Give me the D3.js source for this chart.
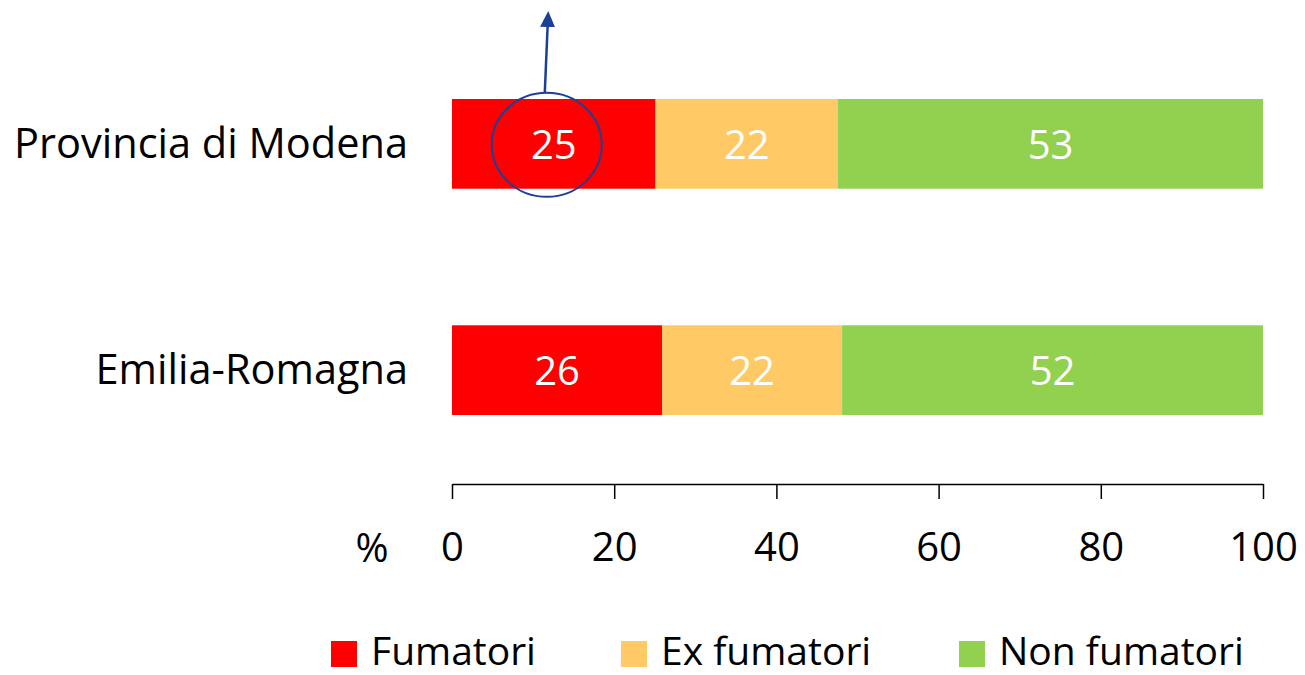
<!DOCTYPE html>
<html lang="it">
<head>
    <meta charset="UTF-8">
    <title>Fumatori</title>
    <script src="https://d3js.org/d3.v7.min.js"></script>
    <style>
        * { margin: 0; padding: 0; box-sizing: border-box; }
        body { background: #fff; font-family: "Open Sans", Lato, sans-serif; }
    </style>
</head>
<body>
    <div id="chart"></div>
    <script>
        const regions = ["Provincia di Modena", "Emilia-Romagna"];
        const series = ["Fumatori", "Ex fumatori", "Non fumatori"];
        const fumatori = [25.1, 25.9];
        const exFumatori = [22.5, 22.2];
        const nonFumatori = [52.4, 51.9];
        const labels = [[25, 22, 53], [26, 22, 52]];
        const ticks = [0, 20, 40, 60, 80, 100];
        const colors = ["#ff0000", "#ffc966", "#92d050"];

        const W = 1305, H = 675;
        const fs = 40;

        const svg = d3.select("#chart").append("svg")
            .attr("width", W).attr("height", H)
            .style("font-family", "'Open Sans', sans-serif");

        const x = d3.scaleLinear().domain([0, 100]).range([452, 1263]);
        const y = d3.scaleBand().domain(regions).range([99, 415]).paddingInner(0.6035).paddingOuter(0);

        const rows = regions.map((r, i) => ({ region: r, Fumatori: fumatori[i], "Ex fumatori": exFumatori[i], "Non fumatori": nonFumatori[i] }));
        const stacked = d3.stack().keys(series)(rows);

        const layer = svg.selectAll(".layer").data(stacked).join("g")
            .attr("fill", (d, i) => colors[i]);

        layer.selectAll("rect").data(d => d).join("rect")
            .attr("x", d => x(d[0]))
            .attr("y", d => y(d.data.region))
            .attr("width", d => x(d[1]) - x(d[0]))
            .attr("height", y.bandwidth());

        stacked.forEach((s, si) => {
            svg.selectAll(".lab" + si).data(s).join("text")
                .attr("x", d => (x(d[0]) + x(d[1])) / 2)
                .attr("y", d => y(d.data.region) + y.bandwidth() / 2 + 15)
                .attr("text-anchor", "middle")
                .attr("fill", "#fff")
                .style("font-size", fs + "px")
                .text((d, i) => labels[i][si]);
        });

        // etichette categorie
        svg.selectAll(".cat").data(regions).join("text")
            .attr("x", 408)
            .attr("y", d => y(d) + y.bandwidth() / 2 + 14)
            .attr("text-anchor", "end")
            .attr("fill", "#000")
            .style("font-size", "41.5px")
            .text(d => d);

        // asse
        const axisG = svg.append("g").attr("transform", "translate(0,484)")
            .call(d3.axisBottom(x).tickValues(ticks).tickSize(15).tickSizeOuter(0).tickPadding(34));
        axisG.select(".domain").attr("stroke", "#000").attr("stroke-width", 1.5);
        axisG.selectAll(".tick line").attr("stroke", "#000").attr("stroke-width", 1.5);
        axisG.selectAll(".tick text").attr("fill", "#000")
            .style("font-size", fs + "px").style("font-family", "'Open Sans', sans-serif");

        svg.append("text").attr("x", 372).attr("y", 562)
            .attr("text-anchor", "middle").style("font-size", fs + "px").text("%");

        // cerchio + freccia
        const blue = "#1c3f98";
        svg.append("defs").append("marker")
            .attr("id", "arr").attr("markerUnits", "userSpaceOnUse")
            .attr("viewBox", "0 0 16 15")
            .attr("refX", 0).attr("refY", 7.5)
            .attr("markerWidth", 16).attr("markerHeight", 15)
            .attr("orient", "auto")
            .append("path").attr("d", "M0,0 L16,7.5 L0,15 Z").attr("fill", blue);

        const cx = (x(0) + x(fumatori[0])) / 2 - 7;
        const cy = y(regions[0]) + y.bandwidth() / 2 + 1;
        svg.append("ellipse")
            .attr("cx", cx).attr("cy", cy)
            .attr("rx", 55).attr("ry", 52)
            .attr("fill", "none").attr("stroke", blue).attr("stroke-width", 2);
        svg.append("line")
            .attr("x1", cx - 2).attr("y1", cy - 52)
            .attr("x2", cx + 0.8).attr("y2", 27)
            .attr("stroke", blue).attr("stroke-width", 2.5)
            .attr("marker-end", "url(#arr)");

        // legenda
        const legX = [331, 621, 959];
        const leg = svg.selectAll(".leg").data(series).join("g")
            .attr("transform", (d, i) => `translate(${legX[i]},641)`);
        leg.append("rect").attr("width", 26).attr("height", 26)
            .attr("fill", (d, i) => colors[i]);
        leg.append("text").attr("x", 40).attr("y", 24)
            .style("font-size", "39px").attr("fill", "#000")
            .text(d => d);
    </script>
</body>
</html>
